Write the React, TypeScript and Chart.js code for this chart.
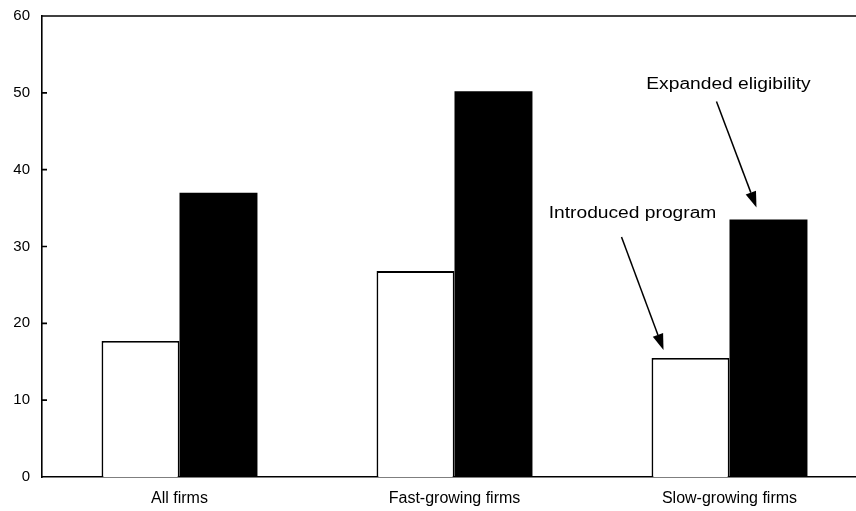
import React, { useEffect, useRef } from "react";
import { Chart, registerables } from "chart.js";

Chart.register(...registerables);

const categories = ["All firms", "Fast-growing firms", "Slow-growing firms"];
const introducedValues = [17.7, 26.8, 15.5];
const expandedValues = [37.0, 50.2, 33.5];
const yTicks = [0, 10, 20, 30, 40, 50, 60];
const annotationIntro = "Introduced program";
const annotationExpanded = "Expanded eligibility";

const FONT = "'Liberation Sans', Arial, Helvetica, sans-serif";

function drawArrow(ctx: CanvasRenderingContext2D, x1: number, y1: number, x2: number, y2: number) {
  const ang = Math.atan2(y2 - y1, x2 - x1);
  const headLen = 16;
  const headW = 5.5;
  const bx = x2 - headLen * Math.cos(ang);
  const by = y2 - headLen * Math.sin(ang);
  ctx.beginPath();
  ctx.moveTo(x1, y1);
  ctx.lineTo(bx, by);
  ctx.lineWidth = 1.5;
  ctx.stroke();
  ctx.beginPath();
  ctx.moveTo(x2, y2);
  ctx.lineTo(bx + headW * Math.sin(ang), by - headW * Math.cos(ang));
  ctx.lineTo(bx - headW * Math.sin(ang), by + headW * Math.cos(ang));
  ctx.closePath();
  ctx.fill();
}

function drawStretchedText(ctx: CanvasRenderingContext2D, text: string, cx: number, cy: number) {
  ctx.save();
  ctx.translate(cx, cy);
  ctx.scale(1.2, 1);
  ctx.font = `16px ${FONT}`;
  ctx.textAlign = "center";
  ctx.textBaseline = "middle";
  ctx.fillText(text, 0, 0);
  ctx.restore();
}

const decorPlugin = {
  id: "decor",
  afterDraw(chart: any) {
    const ctx: CanvasRenderingContext2D = chart.ctx;
    const { left, right, top } = chart.chartArea;
    const yScale = chart.scales.y;
    ctx.save();
    ctx.strokeStyle = "#000";
    ctx.fillStyle = "#000";
    ctx.lineWidth = 1.6;
    // top frame line
    ctx.beginPath();
    ctx.moveTo(left - 0.8, top);
    ctx.lineTo(right, top);
    ctx.stroke();
    // inward tick marks
    ctx.beginPath();
    yScale.ticks.forEach((t: any) => {
      if (t.value > yTicks[0] && t.value < yTicks[yTicks.length - 1]) {
        const py = yScale.getPixelForValue(t.value);
        ctx.moveTo(left, py);
        ctx.lineTo(left + 5, py);
      }
    });
    ctx.stroke();

    // annotations anchored to the slow-growing bars
    const w: any = chart.getDatasetMeta(0).data[2];
    const b: any = chart.getDatasetMeta(1).data[2];
    if (w && b) {
      drawStretchedText(ctx, annotationIntro, w.x - 58, w.y - 144);
      drawArrow(ctx, w.x - 69, w.y - 121, w.x - 27, w.y - 8);
      drawStretchedText(ctx, annotationExpanded, b.x - 40, b.y - 135);
      drawArrow(ctx, b.x - 52, b.y - 118, b.x - 12, b.y - 12);
    }
    ctx.restore();
  },
};

export default function App() {
  const ref = useRef<HTMLCanvasElement | null>(null);
  useEffect(() => {
    if (!ref.current) return;
    const chart = new Chart(ref.current, {
      type: "bar",
      data: {
        labels: categories,
        datasets: [
          {
            label: "Introduced program",
            data: introducedValues,
            backgroundColor: "#ffffff",
            borderColor: "#000000",
            borderWidth: 1.8,
            categoryPercentage: 0.567,
            barPercentage: 1.0,
          },
          {
            label: "Expanded eligibility",
            data: expandedValues,
            backgroundColor: "#000000",
            borderColor: "#000000",
            borderWidth: 0,
            categoryPercentage: 0.567,
            barPercentage: 1.0,
          },
        ],
      },
      options: {
        responsive: false,
        animation: false,
        devicePixelRatio: 1,
        layout: { padding: { left: 0, top: 16, right: 13, bottom: 0 } },
        plugins: {
          legend: { display: false },
          tooltip: { enabled: false },
          title: { display: false },
        },
        scales: {
          x: {
            grid: { display: false, drawTicks: false },
            border: { display: true, color: "#000", width: 1.6 },
            ticks: {
              color: "#000",
              font: { family: FONT, size: 16 },
              padding: 12,
              maxRotation: 0,
            },
            afterFit: (scale: any) => {
              scale.height = 34;
              scale.paddingLeft = 0;
              scale.paddingRight = 0;
            },
          },
          y: {
            min: 0,
            max: 60,
            grid: { display: false, drawTicks: false },
            border: { display: true, color: "#000", width: 1.6 },
            afterBuildTicks: (scale: any) => {
              scale.ticks = yTicks.map((v) => ({ value: v }));
            },
            ticks: {
              color: "#000",
              font: { family: FONT, size: 15 },
              padding: 12,
            },
            afterFit: (scale: any) => {
              scale.width = 42;
              scale.paddingTop = 0;
              scale.paddingBottom = 0;
            },
          },
        },
      },
      plugins: [decorPlugin],
    });
    return () => chart.destroy();
  }, []);

  return (
    <div
      style={{
        position: "fixed",
        left: 0,
        top: 0,
        width: 856,
        height: 511,
        overflow: "hidden",
        background: "#fff",
      }}
    >
      <canvas ref={ref} width={880} height={511} style={{ display: "block", width: 880, height: 511 }} />
    </div>
  );
}
